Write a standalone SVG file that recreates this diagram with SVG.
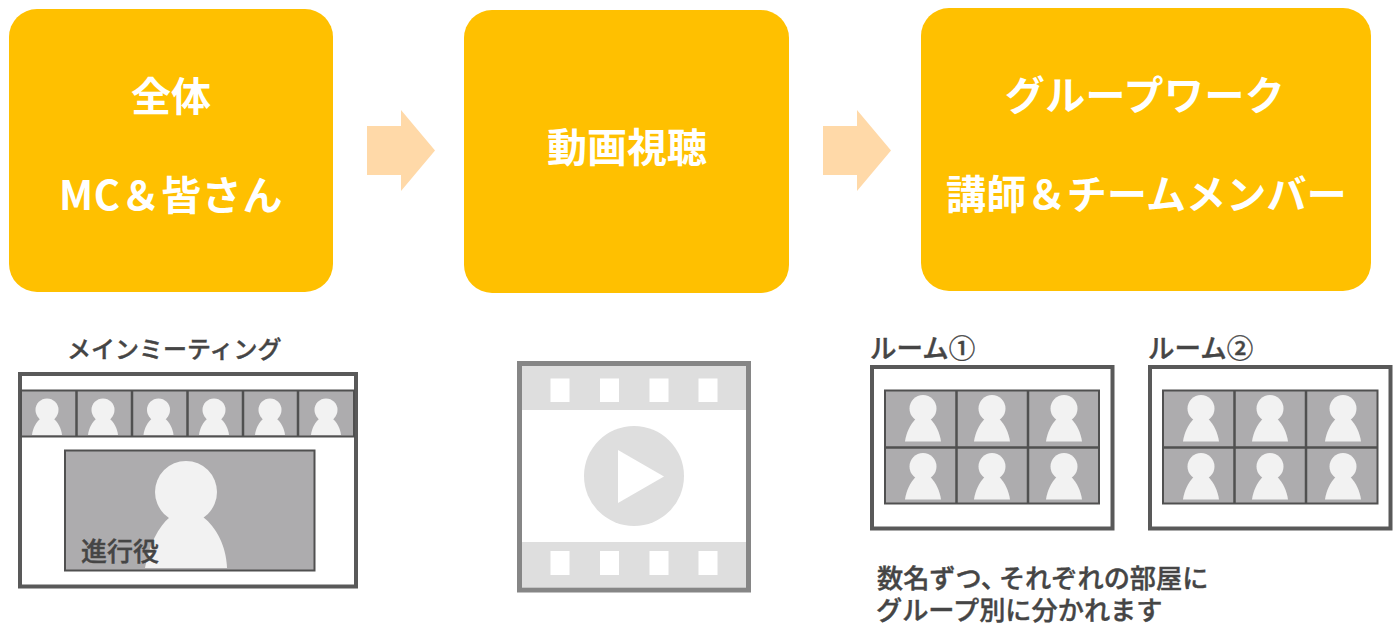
<svg xmlns="http://www.w3.org/2000/svg" width="1399" height="624" viewBox="0 0 1399 624">
<style>
text{font-family:"Noto Sans CJK JP","Noto Sans",sans-serif}
.box{fill:#FFC000}
.t{fill:#fff;font-size:40px;font-weight:700;text-anchor:middle}
.l{fill:#454545;stroke:#454545;stroke-width:0.400;font-weight:500;font-family:"Liberation Sans","Noto Sans CJK JP",sans-serif}
.arrow{fill:#FFD9A8}
.frame{fill:#fff;stroke:#595959;stroke-width:4}
.cell{fill:#ADACAE;stroke:#505050;stroke-width:2}
.grid{stroke:#505050;stroke-width:2.500;fill:none}
.p{fill:#F2F2F2}
.film{fill:#DEDEDE}
.hole{fill:#fff}
</style>
<defs>
<g id="ps"><circle class="p" cx="0" cy="0" r="11.500"/><path class="p" d="M-15,25C-14.500,19-11,12-6,8L6,8C11,12 14.500,19 15,25Z"/></g>
<g id="pr"><circle class="p" cx="0" cy="0" r="13.500"/><path class="p" d="M-18,33C-17,25-13,16-7,10L7,10C13,16 17,25 18,33Z"/></g>
</defs>
<rect width="1399" height="624" fill="#fff"/>
<g id="connectors">
<path class="arrow" d="M367,126H401V110L435,150.500L401,191V175H367Z"/>
<path class="arrow" d="M823,126H857V110L891,150.500L857,191V175H823Z"/>
</g>
<g id="node-all"><rect class="box" x="9" y="9" width="324" height="283" rx="28"/>
<text class="t" x="171" y="111">全体</text><text class="t" x="171" y="210" letter-spacing="0.600">MC＆皆さん</text></g>
<g id="node-video"><rect class="box" x="464" y="10" width="325" height="283" rx="28"/>
<text class="t" x="627" y="162">動画視聴</text></g>
<g id="node-group"><rect class="box" x="921" y="8" width="450" height="283" rx="28"/>
<text class="t" x="1145" y="110" letter-spacing="0.400">グループワーク</text><text class="t" x="1146.500" y="209" letter-spacing="0.200">講師＆チームメンバー</text></g>
<g id="main-meeting">
<text class="l" x="67" y="358" font-size="24">メインミーティング</text>
<rect class="frame" x="20" y="374" width="336" height="212.500"/>
<rect class="cell" x="21" y="390.500" width="333" height="46"/>
<path class="grid" d="M76.500,390V437M132,390V437M187.500,390V437M243,390V437M298,390V437"/>
<use href="#ps" x="47" y="410"/><use href="#ps" x="103" y="410"/><use href="#ps" x="158.500" y="410"/><use href="#ps" x="214" y="410"/><use href="#ps" x="270" y="410"/><use href="#ps" x="326" y="410"/>
<rect class="cell" x="65" y="450.500" width="249.500" height="120"/>
<circle class="p" cx="186" cy="492" r="31"/>
<path class="p" d="M145,568C149,545 158,527 170,517L203,517C216,527 226,545 227,568Z"/>
<text class="l" x="81" y="561" font-size="26">進行役</text>
</g>
<g id="film">
<rect x="519.500" y="363.500" width="229" height="226.500" fill="#fff" stroke="#868686" stroke-width="5"/>
<rect class="film" x="522" y="366" width="224" height="44"/><rect class="film" x="522" y="542" width="224" height="45"/>
<rect class="hole" x="550.500" y="378.500" width="19" height="23.500"/><rect class="hole" x="600" y="378.500" width="19" height="23.500"/><rect class="hole" x="649.500" y="378.500" width="19" height="23.500"/><rect class="hole" x="698.500" y="378.500" width="19" height="23.500"/>
<rect class="hole" x="550.500" y="551" width="19" height="24"/><rect class="hole" x="600" y="551" width="19" height="24"/><rect class="hole" x="649.500" y="551" width="19" height="24"/><rect class="hole" x="698.500" y="551" width="19" height="24"/>
<circle class="film" cx="634" cy="476" r="50"/><path class="hole" d="M618,450L664,476.500L618,503Z"/>
</g>
<g id="room-1">
<text class="l" x="870" y="358" font-size="26.500">ルーム①</text>
<rect class="frame" x="872" y="367" width="240.500" height="161.500"/>
<rect class="cell" x="885" y="390.500" width="214" height="113"/>
<path class="grid" d="M956.500,390V504M1028,390V504M884,447.500H1099"/>
<use href="#pr" x="923" y="408.500"/><use href="#pr" x="992" y="408.500"/><use href="#pr" x="1064" y="408.500"/><use href="#pr" x="923" y="466.500"/><use href="#pr" x="992" y="466.500"/><use href="#pr" x="1064" y="466.500"/>
</g>
<g id="room-2">
<text class="l" x="1148" y="358" font-size="26.500">ルーム②</text>
<rect class="frame" x="1150" y="367" width="240.500" height="161.500"/>
<rect class="cell" x="1163" y="390.500" width="214.500" height="113"/>
<path class="grid" d="M1234.500,390V504M1306,390V504M1162,447.500H1378"/>
<use href="#pr" x="1201" y="408.500"/><use href="#pr" x="1270" y="408.500"/><use href="#pr" x="1343" y="408.500"/><use href="#pr" x="1201" y="466.500"/><use href="#pr" x="1270" y="466.500"/><use href="#pr" x="1343" y="466.500"/>
</g>
<g id="caption">
<text class="l" x="877" y="588" font-size="26.200">数名ずつ、<tspan dx="-8">それぞれの部屋に</tspan></text>
<text class="l" x="876" y="620" font-size="26.200">グループ別に分かれます</text>
</g>
</svg>
